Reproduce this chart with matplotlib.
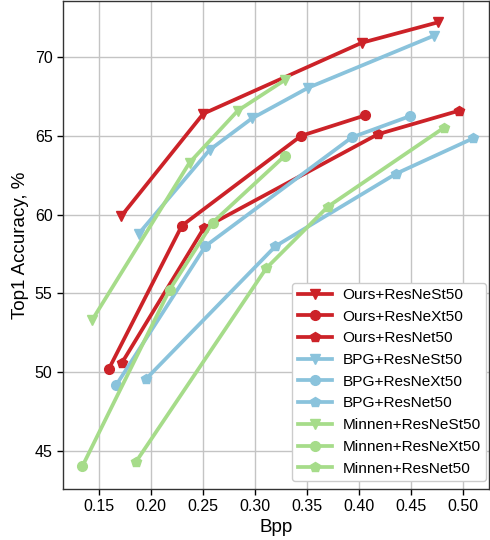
import matplotlib
matplotlib.use("Agg")
import matplotlib.pyplot as plt

plt.rcParams['font.family'] = ['Liberation Sans', 'DejaVu Sans']

red = '#cc2228'
blue = '#8ac3dc'
green = '#a6dc8a'

# Ours
ours_nest_x = [0.171, 0.250, 0.4025, 0.476]
ours_nest_y = [59.9, 66.4, 70.9, 72.2]
ours_next_x = [0.159, 0.2294, 0.3442, 0.406]
ours_next_y = [50.2, 59.3, 65.0, 66.3]
ours_net_x = [0.1717, 0.2506, 0.418, 0.4965]
ours_net_y = [50.6, 59.15, 65.1, 66.6]
# BPG
bpg_nest_x = [0.188, 0.256, 0.2967, 0.351, 0.472]
bpg_nest_y = [58.8, 64.1, 66.1, 68.05, 71.35]
bpg_next_x = [0.1663, 0.252, 0.393, 0.449]
bpg_next_y = [49.2, 58.0, 64.9, 66.25]
bpg_net_x = [0.1945, 0.3195, 0.4356, 0.510]
bpg_net_y = [49.55, 58.0, 62.6, 64.85]
# Minnen
min_nest_x = [0.1429, 0.2368, 0.2833, 0.3288]
min_nest_y = [53.3, 63.3, 66.6, 68.55]
min_next_x = [0.1337, 0.2177, 0.259, 0.3288]
min_next_y = [44.05, 55.25, 59.5, 63.75]
min_net_x = [0.185, 0.3106, 0.3698, 0.4813]
min_net_y = [44.3, 56.6, 60.5, 65.5]

series = [
    ("Ours+ResNeSt50", ours_nest_x, ours_nest_y, red, 'v'),
    ("Ours+ResNeXt50", ours_next_x, ours_next_y, red, 'o'),
    ("Ours+ResNet50", ours_net_x, ours_net_y, red, 'p'),
    ("BPG+ResNeSt50", bpg_nest_x, bpg_nest_y, blue, 'v'),
    ("BPG+ResNeXt50", bpg_next_x, bpg_next_y, blue, 'o'),
    ("BPG+ResNet50", bpg_net_x, bpg_net_y, blue, 'p'),
    ("Minnen+ResNeSt50", min_nest_x, min_nest_y, green, 'v'),
    ("Minnen+ResNeXt50", min_next_x, min_next_y, green, 'o'),
    ("Minnen+ResNet50", min_net_x, min_net_y, green, 'p'),
]

xticks = [0.15, 0.20, 0.25, 0.30, 0.35, 0.40, 0.45, 0.50]
yticks = [45, 50, 55, 60, 65, 70]

fig = plt.figure(figsize=(4.9, 5.4), dpi=100)
ax = fig.add_axes([63/490, 51/540, 426/490, 488/540])

for label, xs, ys, c, m in series:
    ax.plot(xs, ys, color=c, marker=m, lw=2.7, ms=7, label=label)

ax.set_xlim(0.115, 0.525)
ax.set_ylim(42.6, 73.55)
ax.set_xticks(xticks)
ax.set_xticklabels([f"{t:.2f}" for t in xticks])
ax.set_yticks(yticks)
ax.tick_params(labelsize=11.5, length=4, width=1)
ax.grid(True, color='#c4c4c4', lw=1)
ax.set_axisbelow(True)
ax.set_xlabel("Bpp", fontsize=13.5, labelpad=3)
ax.set_ylabel("Top1 Accuracy, %", fontsize=13.5)
for s in ax.spines.values():
    s.set_color('#333333')
    s.set_linewidth(1.0)

leg = ax.legend(loc='lower right', bbox_to_anchor=(486/490, 59/540),
                bbox_transform=fig.transFigure, borderaxespad=0,
                fontsize=11.1, frameon=True, fancybox=True,
                framealpha=1.0, edgecolor='#cccccc', labelspacing=0.5,
                handlelength=2.2, handletextpad=0.7, borderpad=0.35)

fig.savefig("out.png", dpi=100)
